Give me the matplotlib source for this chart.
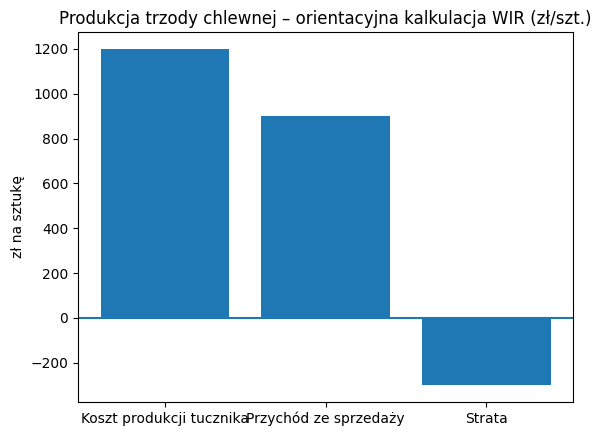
import matplotlib
matplotlib.use("Agg")
import matplotlib.pyplot as plt

# dane z kalkulacji
kategorie = ["Koszt produkcji tucznika", "Przychód ze sprzedaży", "Strata"]
wartosci = [1200, 900, -300]

fig = plt.figure(figsize=(6.01, 4.36), dpi=100)
ax = fig.add_axes([78/601, 34/436, 495/601, 370/436])

ax.bar(kategorie, wartosci)
ax.axhline(0)
ax.set_ylabel("zł na sztukę")
ax.set_title("Produkcja trzody chlewnej – orientacyjna kalkulacja WIR (zł/szt.)")

fig.savefig("out.png", dpi=100)
